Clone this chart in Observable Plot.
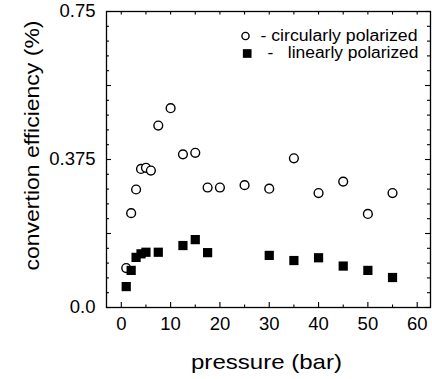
<!DOCTYPE html>
<html>
<head>
<meta charset="utf-8">
<script src="https://cdn.jsdelivr.net/npm/d3@7"></script>
<script src="https://cdn.jsdelivr.net/npm/@observablehq/plot@0.6"></script>
<style>
  html, body { margin: 0; padding: 0; background: #fff; }
</style>
</head>
<body>
<div id="chart"></div>
<script>
// Data
const pressureCircular = [1, 2, 3, 4, 5, 6, 7.5, 10, 12.5, 15, 17.5, 20, 25, 30, 35, 40, 45, 50, 55];
const efficiencyCircular = [0.100, 0.239, 0.299, 0.351, 0.354, 0.347, 0.461, 0.505, 0.388, 0.392, 0.304, 0.304, 0.310, 0.301, 0.378, 0.290, 0.319, 0.237, 0.290];
const pressureLinear = [1, 2, 3, 4, 5, 7.5, 12.5, 15, 17.5, 30, 35, 40, 45, 50, 55];
const efficiencyLinear = [0.053, 0.094, 0.127, 0.136, 0.140, 0.140, 0.157, 0.172, 0.139, 0.132, 0.119, 0.126, 0.105, 0.094, 0.076];

const xTickValues = [0, 10, 20, 30, 40, 50, 60];
const xTickLabels = ["0", "10", "20", "30", "40", "50", "60"];
const yTickValues = [0, 0.375, 0.75];
const yTickLabels = ["0.0", "0.375", "0.75"];
const legendLabels = ["- circularly polarized", "-\u00a0\u00a0\u00a0linearly polarized"];
const xTitle = "pressure (bar)";
const yTitle = "convertion efficiency (%)";

const circular = pressureCircular.map((p, i) => ({p, e: efficiencyCircular[i]}));
const linear = pressureLinear.map((p, i) => ({p, e: efficiencyLinear[i]}));

const W = 432, H = 379;
const mL = 106, mR = 2, mT = 11, mB = 72;
const frameW = W - mL - mR, frameH = H - mT - mB;
const font = "'Liberation Sans', Arial, Helvetica, sans-serif";

const xMinor = d3.range(5, 60, 10);
const xAllTop = d3.range(0, 61, 5);
const yMajor = d3.range(0, 0.7501, 0.1875);
const yMinor = d3.range(0, 0.7501, 0.0375).filter(v => !yMajor.some(m => Math.abs(m - v) < 1e-6));

const chart = Plot.plot({
  width: W,
  height: H,
  marginLeft: mL,
  marginRight: mR,
  marginTop: mT,
  marginBottom: mB,
  style: {fontFamily: font, background: "#fff", color: "#000"},
  x: {domain: [-3, 62.7]},
  y: {domain: [0, 0.75]},
  marks: [
    // tick labels
    Plot.axisX(xTickValues, {
      tickSize: 0, tickPadding: 9, fontSize: 18.5,
      tickFormat: d => xTickLabels[xTickValues.indexOf(d)], label: null
    }),
    Plot.axisY(yTickValues, {
      tickSize: 0, tickPadding: 11, fontSize: 18.5,
      tickFormat: d => yTickLabels[yTickValues.indexOf(d)], label: null
    }),
    // inward tick marks: bottom
    Plot.tickX(xTickValues, {x: d => d, insetTop: frameH - 5, stroke: "#000", strokeWidth: 1.1}),
    Plot.tickX(xMinor, {x: d => d, insetTop: frameH - 2.5, stroke: "#000", strokeWidth: 1.1}),
    // top
    Plot.tickX(xAllTop, {x: d => d, insetBottom: frameH - 3.5, stroke: "#000", strokeWidth: 1.1}),
    // left
    Plot.tickY(yMajor, {y: d => d, insetRight: frameW - 5, stroke: "#000", strokeWidth: 1.1}),
    Plot.tickY(yMinor, {y: d => d, insetRight: frameW - 3, stroke: "#000", strokeWidth: 1.1}),
    // right
    Plot.tickY(yMajor, {y: d => d, insetLeft: frameW - 5, stroke: "#000", strokeWidth: 1.1}),
    Plot.tickY(yMinor, {y: d => d, insetLeft: frameW - 3, stroke: "#000", strokeWidth: 1.1}),
    Plot.frame({stroke: "#000", strokeWidth: 1.3}),
    // data
    Plot.dot(circular, {x: "p", y: "e", r: 4.4, stroke: "#000", strokeWidth: 1.4, fill: "#fff"}),
    Plot.dot(linear, {x: "p", y: "e", symbol: "square", r: 5.2, fill: "#000", stroke: "none"}),
    // legend
    Plot.dot([legendLabels[0]], {frameAnchor: "top-left", dx: 139, dy: 24.5, r: 3.6, stroke: "#000", strokeWidth: 1.4, fill: "#fff"}),
    Plot.dot([legendLabels[1]], {frameAnchor: "top-left", dx: 140.7, dy: 42, r: 4.9, symbol: "square", fill: "#000", stroke: "none"}),
    Plot.text([legendLabels[0]], {text: d => d, frameAnchor: "top-left", dx: 154, dy: 24.5, textAnchor: "start", lineAnchor: "middle", fontSize: 16, fill: "#000"}),
    Plot.text([legendLabels[1]], {text: d => d, frameAnchor: "top-left", dx: 161, dy: 41, textAnchor: "start", lineAnchor: "middle", fontSize: 16, fill: "#000"}),
    // axis titles
    Plot.text([xTitle], {text: d => d, frameAnchor: "bottom", textAnchor: "middle", lineAnchor: "middle", dx: -2, dy: 54.6, fontSize: 21, fill: "#000"}),
    Plot.text([yTitle], {text: d => d, frameAnchor: "left", textAnchor: "middle", lineAnchor: "middle", rotate: -90, dx: -74, dy: -14, fontSize: 21, fill: "#000"})
  ]
});
// horizontal stretch of the text runs, as in the reference figure
const stretch = new Map([[legendLabels[0], 157], [legendLabels[1], 151], [xTitle, 151], [yTitle, 250]]);
d3.select(chart).selectAll("text").each(function() {
  const len = stretch.get(this.textContent);
  if (len) {
    this.setAttribute("textLength", len);
    this.setAttribute("lengthAdjust", "spacingAndGlyphs");
  }
});
document.getElementById("chart").appendChild(chart);
</script>
</body>
</html>
